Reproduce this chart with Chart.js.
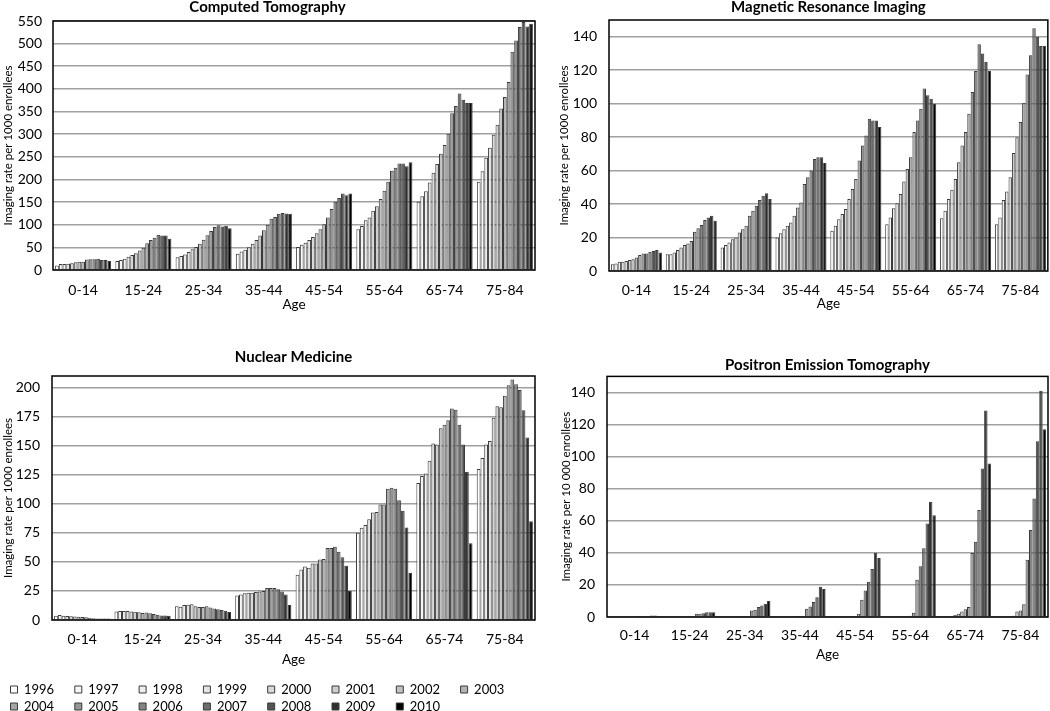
<!DOCTYPE html>
<html><head><meta charset="utf-8">
<script src="https://cdn.jsdelivr.net/npm/chart.js@4.4.1/dist/chart.umd.min.js"></script>
<style>
html,body{margin:0;padding:0;background:#fff;}
#wrap{position:relative;width:1050px;height:711px;overflow:hidden;background:#fff;}
.box{position:absolute;}
</style></head><body>
<div id="wrap">
  <div class="box" style="left:0px;top:-2px;width:542px;height:315.1px"><canvas id="ct"></canvas></div>
  <div class="box" style="left:555px;top:-2px;width:495px;height:314.1px"><canvas id="mri"></canvas></div>
  <div class="box" style="left:0px;top:348px;width:542px;height:375px"><canvas id="nm"></canvas></div>
  <div class="box" style="left:558px;top:356px;width:492px;height:307.1px"><canvas id="pet"></canvas></div>
</div>
<script>
// ---------- DATA ----------
const ages = ['0-14','15-24','25-34','35-44','45-54','55-64','65-74','75-84'];
const years = ['1996','1997','1998','1999','2000','2001','2002','2003','2004','2005','2006','2007','2008','2009','2010'];

// Each row = one age group, values for 1996..2010
const ctRates = [
  [10, 13, 13, 14, 15, 17, 18, 18, 23, 24, 24, 25, 22, 22, 20],
  [20, 22, 25, 29, 33, 37, 43, 49, 59, 66, 71, 78, 76, 76, 69],
  [28, 31, 34, 40, 46, 51, 58, 67, 77, 86, 95, 99, 96, 98, 92],
  [36, 41, 45, 50, 58, 66, 76, 88, 100, 113, 117, 124, 126, 125, 124],
  [51, 56, 60, 66, 73, 81, 90, 101, 116, 135, 151, 159, 169, 165, 169],
  [90, 97, 110, 116, 131, 141, 157, 175, 195, 219, 226, 235, 235, 229, 238],
  [151, 163, 174, 193, 215, 234, 257, 276, 301, 346, 362, 390, 376, 369, 369],
  [195, 218, 248, 270, 299, 321, 357, 382, 415, 482, 507, 537, 548, 538, 544]
];
const mriRates = [
  [4, 4.5, 5.5, 5.5, 6, 6.5, 7, 8, 9.5, 10.5, 10.5, 11.5, 12, 12.5, 11],
  [10, 10, 11, 12.5, 14, 15.5, 16.5, 18, 23.5, 25.5, 27.5, 30.5, 32, 33, 30],
  [14, 15.5, 17, 19, 20, 23, 25, 27, 33, 36, 39, 42.5, 45, 46.5, 43],
  [20, 22.5, 25, 27, 29, 33, 38, 41, 52, 56, 60, 67, 68, 68, 64.5],
  [24, 27, 31, 34, 37, 43, 49, 55, 66, 75, 81, 91, 90, 90, 86],
  [28, 32, 37.5, 40.5, 46, 53.5, 61, 68, 83, 90, 97, 109, 105, 103, 100],
  [31.5, 36, 43, 48.5, 55, 65, 75, 83, 94, 107, 119.5, 135.5, 130, 125, 119.5],
  [28, 32, 42.5, 47.5, 56, 70.5, 80, 89, 100.5, 117.5, 129, 145, 140, 134.5, 134.5]
];
const nmRates = [
  [3.6, 4.2, 3.6, 3.5, 3.2, 3.1, 2.9, 2.5, 2.4, 1.9, 1.6, 1.3, 1.2, 1.2, 1.2],
  [7.3, 7.8, 7.8, 7.7, 7.4, 7.0, 6.6, 6.0, 6.5, 5.9, 5.2, 4.5, 3.8, 3.8, 3.7],
  [11.8, 11.3, 13, 13.1, 13.5, 11.8, 11.2, 11.2, 11.8, 10.8, 10, 9.3, 8.6, 7.9, 6.8],
  [21, 22, 23, 23.5, 23.5, 24, 24.5, 25, 27.5, 27.5, 27.5, 26.5, 24.5, 22, 13],
  [39, 43.5, 46, 45, 48.7, 48.7, 52, 52.4, 62, 62, 63, 58.7, 54, 46.7, 25],
  [75, 79.4, 81.7, 86.8, 92.5, 93, 99.4, 99.4, 113, 113.8, 113, 103, 94, 79.7, 40.7],
  [118, 124, 126, 137, 152, 151, 165, 168, 172, 182, 181, 168, 151, 127.5, 66],
  [130, 139.5, 151, 154, 174, 184, 183, 193, 202, 207, 203, 198, 180.5, 157, 85]
];
const petRates = [
  [0, 0, 0, 0, 0, 0, 0, 0, 0.2, 0.3, 0.5, 0.6, 1, 1, 0.6],
  [0, 0, 0, 0, 0, 0, 0, 0, 0.3, 2, 2.1, 2.3, 3, 3, 3],
  [0, 0, 0, 0, 0, 0, 0, 0.1, 0.3, 4.1, 4.5, 6.2, 7.2, 8.2, 9.9],
  [0, 0, 0, 0, 0, 0, 0.1, 0.2, 0.6, 5.1, 6.6, 9.3, 12.3, 18.9, 17.5],
  [0, 0, 0, 0, 0, 0.1, 0.3, 0.6, 2, 10.7, 16.5, 22, 30, 40, 36.8],
  [0, 0, 0, 0, 0.1, 0.2, 0.4, 0.8, 2.7, 23.3, 31.6, 42.8, 58.3, 71.9, 63.4],
  [0, 0, 0.3, 0.6, 1.2, 2, 3.5, 4.8, 6.2, 39.9, 46.9, 66.7, 92.6, 128.7, 95.7],
  [0, 0, 0, 0, 0.2, 0.8, 3.5, 4.1, 7.9, 35.7, 54.3, 73.8, 109.5, 141, 117]
];

// ---------- STYLE ----------
const FONT = 'Lato, "Open Sans", sans-serif';
const shades = ['#ffffff','#f7f7f7','#eeeeee','#e4e4e4','#d9d9d9','#cecece','#c2c2c2','#b4b4b4','#a5a5a5','#959595','#848484','#6e6e6e','#545454','#303030','#000000'];

const frame = {
  id: 'frame',
  afterDatasetsDraw(c) {
    const {ctx, chartArea: a} = c;
    ctx.save();
    ctx.strokeStyle = '#000';
    ctx.lineWidth = 1.5;
    ctx.strokeRect(a.left, a.top, a.right - a.left, a.bottom - a.top);
    ctx.restore();
  }
};

// legend spacing: fixed 63px columns like the original
const LEG_FONT = 13, LEG_BOX = 7, LEG_PAD = 4, LEG_COL = 63;
const mctx = document.createElement('canvas').getContext('2d');
mctx.font = LEG_FONT + 'px ' + FONT;
const wTxt = mctx.measureText('1996').width;
const wSp = mctx.measureText('\u00A0').width || 3;
const padN = Math.max(0, Math.round((LEG_COL - LEG_PAD - LEG_BOX - LEG_FONT / 2 - wTxt) / wSp));
const legPad = '\u00A0'.repeat(padN);

function makeChart(id, o) {
  const datasets = years.map((yr, i) => ({
    label: yr,
    data: o.rates.map(r => r[i]),
    backgroundColor: shades[i],
    borderColor: '#3a3a3a',
    borderWidth: 1,
    categoryPercentage: 0.93,
    barPercentage: 1.0
  }));
  return new Chart(document.getElementById(id), {
    type: 'bar',
    data: { labels: ages, datasets },
    plugins: [frame],
    options: {
      responsive: true,
      maintainAspectRatio: false,
      animation: false,
      devicePixelRatio: 1,
      layout: { padding: { left: o.padL || 0, right: o.padR || 0, top: 0, bottom: 0 } },
      plugins: {
        title: {
          display: true, text: o.title, fullSize: o.titleFull, color: '#000',
          font: { family: FONT, size: 15, weight: 'bold' },
          padding: { top: 0, bottom: o.titlePadB }
        },
        legend: o.legend ? {
          display: true, position: 'bottom', align: 'start',
          labels: {
            color: '#000', boxWidth: LEG_BOX, boxHeight: LEG_BOX, padding: LEG_PAD,
            font: { family: FONT, size: LEG_FONT },
            generateLabels: (chart) => {
              const items = Chart.defaults.plugins.legend.labels.generateLabels(chart);
              items.forEach(it => { it.text = it.text + legPad; it.lineWidth = 1; });
              return items;
            }
          }
        } : { display: false },
        tooltip: { enabled: false }
      },
      scales: {
        x: {
          grid: { display: false, drawTicks: false },
          border: { display: false },
          ticks: { color: '#000', font: { family: FONT, size: 14 }, padding: o.xTickPad, maxRotation: 0, autoSkip: false },
          title: { display: true, text: 'Age', color: '#000', font: { family: FONT, size: 13.5 }, padding: { top: 0, bottom: o.agePadB || 0 } },
          afterFit: s => { s.height = o.xH; }
        },
        y: {
          min: 0, max: o.max,
          grid: { color: '#a0a0a0', lineWidth: 1.6, drawTicks: false },
          border: { display: false },
          ticks: { stepSize: o.step, color: '#000', font: { family: FONT, size: 14 }, padding: o.yTickPad },
          afterBuildTicks: s => {
            const t = [];
            for (let v = 0; v <= o.max + 1e-9; v += o.step) t.push({ value: v });
            s.ticks = t;
          },
          title: { display: true, text: o.yTitle, color: '#000', font: { family: FONT, size: 11.5 }, padding: { top: o.yTitlePadT, bottom: 0 } },
          afterFit: s => { s.width = o.yW; }
        }
      }
    }
  });
}

makeChart('ct', {
  rates: ctRates, title: 'Computed Tomography', titleFull: true, titlePadB: 5,
  max: 550, step: 50, yTitle: 'Imaging rate per 1000 enrollees',
  yW: 53, yTickPad: 11, yTitlePadT: 1.1, padR: 7, xTickPad: 11.6, xH: 43.1
});
makeChart('mri', {
  rates: mriRates, title: 'Magnetic Resonance Imaging', titleFull: false, titlePadB: 4,
  max: 150, step: 20, yTitle: 'Imaging rate per 1000 enrollees',
  yW: 54, yTickPad: 12, yTitlePadT: 2.1, padR: 2, xTickPad: 10.6, xH: 41.1
});
makeChart('nm', {
  rates: nmRates, title: 'Nuclear Medicine', titleFull: false, titlePadB: 10,
  max: 210, step: 25, yTitle: 'Imaging rate per 1000 enrollees',
  yW: 45.5, yTickPad: 12, yTitlePadT: -5.4, padL: 6.5, padR: 7, xTickPad: 10.6, xH: 59, agePadB: 10.9,
  legend: true
});
makeChart('pet', {
  rates: petRates, title: 'Positron Emission Tomography', titleFull: false, titlePadB: 2,
  max: 150, step: 20, yTitle: 'Imaging rate per 10 000 enrollees',
  yW: 49, yTickPad: 12, yTitlePadT: 1.1, padR: 2, xTickPad: 9.6, xH: 46.1
});
</script>
</body></html>
